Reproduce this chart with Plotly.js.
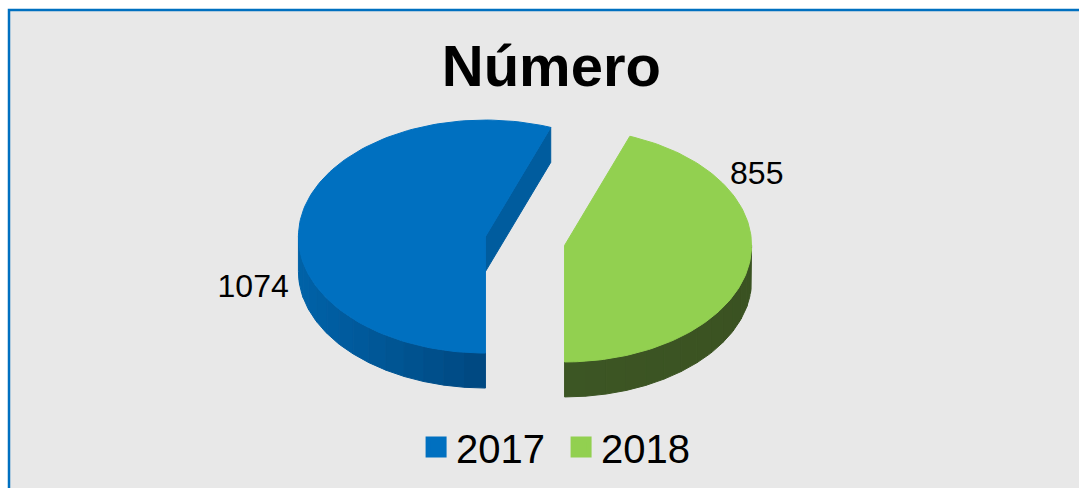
<!DOCTYPE html>
<html><head><meta charset="utf-8">
<script src="https://cdn.plot.ly/plotly-3.0.1.min.js"></script>
<style>html,body{margin:0;padding:0;background:#fff;} #chart{width:1079px;height:488px;}</style>
</head><body><div id="chart"></div>
<script>
// ---- data ----
const categories = ['2017', '2018'];
const values = [1074, 855];
const titleText = 'Número';

// ---- style ----
const topColors = ['#0070C0', '#92D050'];
const wallLight = ['#0062A8', '#42602A'];
const wallDark = ['#002E58', '#374C1E'];
const cutColors = ['#005C9E', '#3A5020'];
const FONT = 'Liberation Sans, Arial, sans-serif';

// ---- 3D pie geometry (pixels, y pointing down) ----
const CX = 525, CY = 241, RX = 187, RY = 116.5, DEPTH = 35, PULL = 0.215;
const START = 270;                    // front of the pie, slices run clockwise
const LABEL_SHIFT = [30, 40.5];       // label angle offset from slice middle (deg)
const LABEL_R = [1.32, 1.19];         // label distance (in radii)

const rad = d => d * Math.PI / 180;
function pt(a, cx, cy, r) { return [cx + RX * r * Math.cos(rad(a)), cy - RY * r * Math.sin(rad(a))]; }
function arc(a0, a1, cx, cy, n) {
  const xs = [], ys = [];
  for (let k = 0; k <= n; k++) { const a = a0 + (a1 - a0) * k / n; const p = pt(a, cx, cy, 1); xs.push(p[0]); ys.push(p[1]); }
  return [xs, ys];
}
function hexLerp(c1, c2, t) {
  const a = parseInt(c1.slice(1), 16), b = parseInt(c2.slice(1), 16);
  const ch = s => Math.round(((a >> s) & 255) * (1 - t) + ((b >> s) & 255) * t);
  return 'rgb(' + ch(16) + ',' + ch(8) + ',' + ch(0) + ')';
}
function poly(xs, ys, color) {
  return { type: 'scatter', mode: 'lines', x: xs, y: ys, fill: 'toself', fillcolor: color,
           line: { color: color, width: 1 }, hoverinfo: 'skip', showlegend: false };
}

const total = values.reduce((s, v) => s + v, 0);
const traces = [];
const labelX = [], labelY = [], labelText = [];
let a0 = START;
values.forEach((v, i) => {
  const span = 360 * v / total;
  const a1 = a0 - span;
  const mid = (a0 + a1) / 2;
  const cx = CX + PULL * RX * Math.cos(rad(mid));
  const cy = CY - PULL * RY * Math.sin(rad(mid));

  // cut faces (visible if their outward normal points toward the viewer)
  [[a0, a0 + 90], [a1, a1 - 90]].forEach(([ea, na]) => {
    if (Math.sin(rad(na)) < -0.01) {
      const p = pt(ea, cx, cy, 1);
      traces.push(poly([cx, p[0], p[0], cx, cx], [cy, p[1], p[1] + DEPTH, cy + DEPTH, cy], cutColors[i]));
    }
  });

  // outer wall: visible where the rim faces the viewer (sin < 0)
  for (let k = -1; k <= 1; k++) {
    const lo = Math.max(a1, 180 + 360 * k), hi = Math.min(a0, 360 + 360 * k);
    if (hi > lo) {
      const N = 14;
      for (let s = 0; s < N; s++) {
        const b0 = lo + (hi - lo) * s / N, b1 = lo + (hi - lo) * (s + 1) / N;
        const [ax, ay] = arc(b0, b1, cx, cy, 6);
        const xs = ax.concat(ax.slice().reverse(), [ax[0]]);
        const ys = ay.concat(ay.slice().reverse().map(y => y + DEPTH), [ay[0]]);
        const t = Math.min(1, Math.max(0, (Math.cos(rad((b0 + b1) / 2)) + 1) / 2));
        traces.push(poly(xs, ys, hexLerp(wallLight[i], wallDark[i], i === 0 ? t : 0.3 + 0.4 * t)));
      }
    }
  }

  // top face
  const [tx, ty] = arc(a0, a1, cx, cy, 120);
  traces.push(poly([cx].concat(tx, [cx]), [cy].concat(ty, [cy]), topColors[i]));

  // label
  const lp = pt(mid + LABEL_SHIFT[i], cx, cy, LABEL_R[i]);
  labelX.push(lp[0]); labelY.push(lp[1]); labelText.push(String(v));
  a0 = a1;
});

traces.push({ type: 'scatter', mode: 'text', x: labelX, y: labelY, text: labelText,
  textposition: 'middle center', textfont: { family: FONT, size: 32, color: '#000' },
  hoverinfo: 'skip', showlegend: false });

categories.forEach((c, i) => traces.push({ type: 'scatter', mode: 'markers', x: [null], y: [null], name: c,
  marker: { symbol: 'square', size: 16, color: topColors[i], line: { color: topColors[i], width: 5 } }, showlegend: true }));

const layout = {
  width: 1079, height: 488,
  margin: { l: 0, r: 0, t: 0, b: 0 },
  paper_bgcolor: '#ffffff', plot_bgcolor: 'rgba(0,0,0,0)',
  title: { text: titleText, x: 0.511, xanchor: 'center', y: 0.866, yanchor: 'middle',
           font: { family: FONT, size: 58, weight: 'bold', color: '#000' } },
  xaxis: { range: [0, 1079], visible: false, fixedrange: true },
  yaxis: { range: [488, 0], visible: false, fixedrange: true },
  showlegend: true,
  legend: { orientation: 'h', x: 0.52, xanchor: 'center', y: 1 - 447 / 488, yanchor: 'middle',
            entrywidth: 100, entrywidthmode: 'pixels',
            font: { family: FONT, size: 40, color: '#000' }, bgcolor: 'rgba(0,0,0,0)', itemclick: false },
  shapes: [{ type: 'rect', xref: 'paper', yref: 'paper', layer: 'below',
             x0: 9 / 1079, x1: 1.02, y0: 1 - 10 / 488, y1: -0.02,
             fillcolor: '#E8E8E8', line: { color: '#0070C0', width: 2.5 } }]
};

Plotly.newPlot('chart', traces, layout, { displayModeBar: false, staticPlot: true });
</script></body></html>
